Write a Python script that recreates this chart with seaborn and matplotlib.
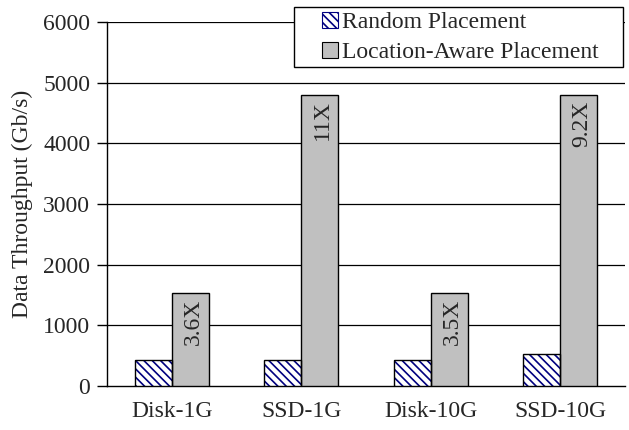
import matplotlib
matplotlib.use("Agg")
import matplotlib.pyplot as plt
from matplotlib.patches import Patch, Rectangle
import seaborn as sns
import pandas as pd

categories = ["Disk-1G", "SSD-1G", "Disk-10G", "SSD-10G"]
random_vals = [430, 430, 435, 530]
aware_vals = [1530, 4800, 1530, 4800]
ratio_labels = ["3.6X", "11X", "3.5X", "9.2X"]
series = ["Random Placement", "Location-Aware Placement"]
yticks = [0, 1000, 2000, 3000, 4000, 5000, 6000]

df = pd.DataFrame({
    "cat": categories * 2,
    "val": random_vals + aware_vals,
    "series": [series[0]] * 4 + [series[1]] * 4,
})

sns.set_theme(style="white")
plt.rcParams["font.family"] = ["Liberation Serif", "DejaVu Serif"]
plt.rcParams["hatch.linewidth"] = 1.2

FS = 17
HATCH = "\\\\\\\\"

fig = plt.figure(figsize=(6.29, 4.30), dpi=100)
ax = fig.add_axes([107 / 629, 44 / 430, (625 - 107) / 629, (386 - 22) / 430])

sns.barplot(data=df, x="cat", y="val", hue="series", order=categories,
            hue_order=series, palette=["white", "#c0c0c0"], width=0.57,
            edgecolor="black", linewidth=1, ax=ax, legend=False, zorder=3)

n = len(categories)
rand_patches = ax.patches[:n]
aware_patches = ax.patches[n:2 * n]
for p in rand_patches:
    p.set_hatch(HATCH)
    p.set_edgecolor("#000080")
    p.set_linewidth(0)
    ax.add_patch(Rectangle((p.get_x(), p.get_y()), p.get_width(), p.get_height(),
                           fill=False, edgecolor="black", linewidth=1, zorder=4))

for p, lab in zip(aware_patches, ratio_labels):
    ax.annotate(lab, (p.get_x() + p.get_width() / 2, p.get_height()),
                xytext=(2, -4), textcoords="offset points",
                rotation=90, ha="center", va="top", fontsize=FS, zorder=5)

ax.set_ylim(0, 6000)
ax.set_xlim(-0.5, n - 0.5)
ax.set_yticks(yticks)
ax.set_yticklabels([str(v) for v in yticks], fontsize=FS)
ax.set_xticks(range(n))
ax.set_xticklabels(categories, fontsize=FS)
ax.set_xticks([i - 0.5 for i in range(n)], minor=True)
ax.tick_params(axis="x", which="major", length=0, pad=11)
ax.tick_params(axis="x", which="minor", length=6, width=1, direction="out", color="black")
ax.tick_params(axis="y", which="major", length=7, width=1, direction="out", color="black", pad=5, left=True)
ax.set_xlabel("")
ax.set_ylabel("Data Throughput (Gb/s)", fontsize=FS, labelpad=7)

for y in yticks[1:]:
    ax.axhline(y, color="black", linewidth=0.9, zorder=1)

for s in ["top", "right"]:
    ax.spines[s].set_visible(False)
for s in ["left", "bottom"]:
    ax.spines[s].set_color("black")
    ax.spines[s].set_linewidth(1)

# legend frame (figure pixels)
frame = Rectangle((294 / 629, 1 - 67 / 430), (623 - 294) / 629, (67 - 7) / 430,
                  transform=fig.transFigure, facecolor="white", edgecolor="black",
                  linewidth=1, zorder=5)
fig.patches.append(frame)

handles = [
    Patch(facecolor="white", edgecolor="#000080", hatch=HATCH, linewidth=0.8),
    Patch(facecolor="#c0c0c0", edgecolor="black", linewidth=0.8),
]
leg = fig.legend(handles, series, loc="upper left", bbox_to_anchor=(322 / 629, 1 - 12 / 430),
                 fontsize=FS, frameon=False, handlelength=0.68, handleheight=0.68,
                 handletextpad=0.15, borderpad=0, labelspacing=0.35, borderaxespad=0)
leg.set_zorder(6)

fig.savefig("out.png", dpi=100)
